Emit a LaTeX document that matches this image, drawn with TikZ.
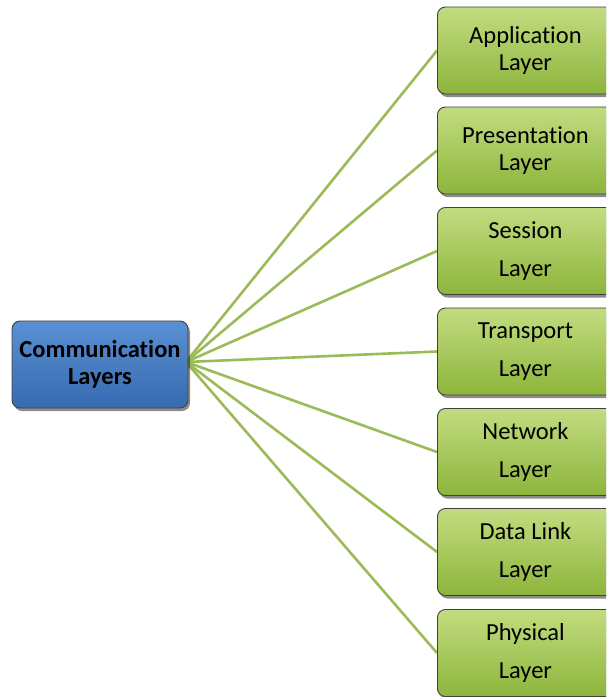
\documentclass[tikz,border=0pt]{standalone}
\usepackage{fontspec}
\setmainfont{Carlito}[Ligatures={NoCommon}]
\usetikzlibrary{shadows}
\definecolor{linkgreen}{HTML}{9BBB59}
\definecolor{greentop}{HTML}{C2DC80}
\definecolor{greenbot}{HTML}{8DB53C}
\definecolor{bluetop}{HTML}{5A90D4}
\definecolor{bluebot}{HTML}{376AB0}
\tikzset{
  boxbase/.style={rectangle, rounded corners=8pt, minimum width=176pt, minimum height=87pt,
    draw=black!75, line width=0.9pt,
    drop shadow={shadow xshift=2pt, shadow yshift=-3pt, opacity=0.45, fill=black},
    align=center, text=black, inner sep=0pt},
  layerbox/.style={boxbase, top color=greentop, bottom color=greenbot,
    font=\fontsize{24.5}{27}\selectfont},
  rootbox/.style={boxbase, top color=bluetop, bottom color=bluebot,
    font=\fontsize{24.5}{27}\bfseries\selectfont},
  link/.style={draw=linkgreen, line width=2.6pt}
}
\begin{document}
\begin{tikzpicture}[x=1pt, y=-1pt]
  \useasboundingbox (0,0) rectangle (606,697);
  \clip (0,0) rectangle (606,697);
  \fill[white] (0,0) rectangle (606,697);

  % hub point on the right side of the root box
  \coordinate (hub) at (186,362);

  % connectors are drawn first so that the boxes cover their ends
  \coordinate (appw)   at (437,50.5);
  \coordinate (presw)  at (437,150.5);
  \coordinate (sessw)  at (437,251);
  \coordinate (transw) at (437,351.5);
  \coordinate (netw)   at (437,452);
  \coordinate (dlw)    at (437,552);
  \coordinate (phyw)   at (437,653);
  \foreach \n in {appw,presw,sessw,transw,netw,dlw,phyw}
    \draw[link] (hub) -- (\n);

  % root node
  \node[rootbox] (root) at (100,364.5) {Communication\\Layers};

  % the seven layers
  \node[layerbox, anchor=west] (app)   at (appw)   {Application\\Layer};
  \node[layerbox, anchor=west] (pres)  at (presw)  {Presentation\\Layer};
  \node[layerbox, anchor=west] (sess)  at (sessw)  {Session\\[11pt]Layer};
  \node[layerbox, anchor=west] (trans) at (transw) {Transport\\[11pt]Layer};
  \node[layerbox, anchor=west] (net)   at (netw)   {Network\\[11pt]Layer};
  \node[layerbox, anchor=west] (dl)    at (dlw)    {Data Link\\[11pt]Layer};
  \node[layerbox, anchor=west] (phy)   at (phyw)   {Physical\\[11pt]Layer};
\end{tikzpicture}
\end{document}
